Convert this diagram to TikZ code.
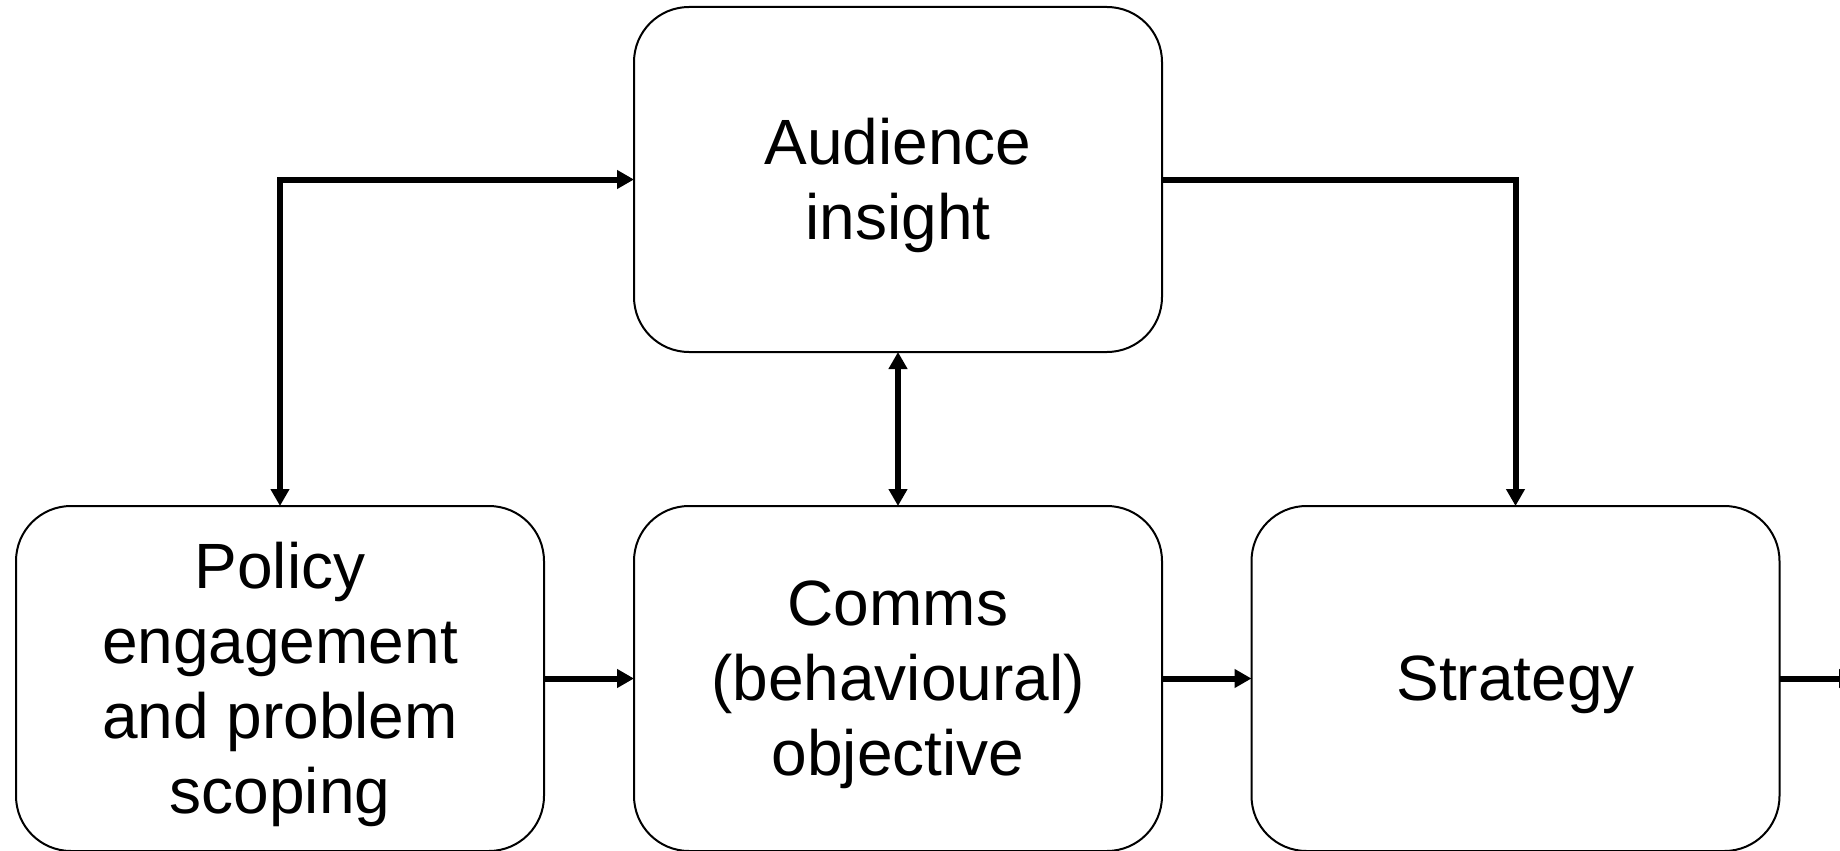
\documentclass[tikz,border=0pt]{standalone}
\usepackage{fontspec}
\setmainfont{Liberation Sans}
\usetikzlibrary{arrows.meta}
\newcommand{\ls}{\rule[-4pt]{0pt}{62pt}}
\tikzset{
  box/.style={draw=black, line width=2pt, rounded corners=55pt, minimum width=528pt, minimum height=345pt, inner sep=0pt, outer sep=0pt, align=center, font=\fontsize{64}{75}\selectfont},
  conn/.style={line width=6pt, -{Triangle[length=17pt,width=18pt]}},
  biconn/.style={line width=6pt, {Triangle[length=17pt,width=18pt]}-{Triangle[length=17pt,width=18pt]}}
}
\begin{document}
\begin{tikzpicture}[x=1pt,y=-1pt]
\useasboundingbox (0,0) rectangle (1840,851);
\clip (0,0) rectangle (1840,851);
\fill[white] (0,0) rectangle (1840,851);
\node[box] (aud) at (898,179.5) {\ls Audience\\\ls insight};
\node[box] (pol) at (280,678.5) {\ls Policy\\\ls engagement\\\ls and problem\\\ls scoping};
\node[box] (com) at (898,678.5) {\ls Comms\\\ls (behavioural)\\\ls objective};
\node[box] (str) at (1515.5,678.5) {\ls Strategy};
\coordinate (out) at (1856,678.5);
\draw[biconn] (pol.north) |- (aud.west);
\draw[conn] (aud.east) -| (str.north);
\draw[biconn] (aud.south) -- (com.north);
\draw[conn] (pol.east) -- (com.west);
\draw[conn] (com.east) -- (str.west);
\draw[conn] (str.east) -- (out);
\end{tikzpicture}
\end{document}
